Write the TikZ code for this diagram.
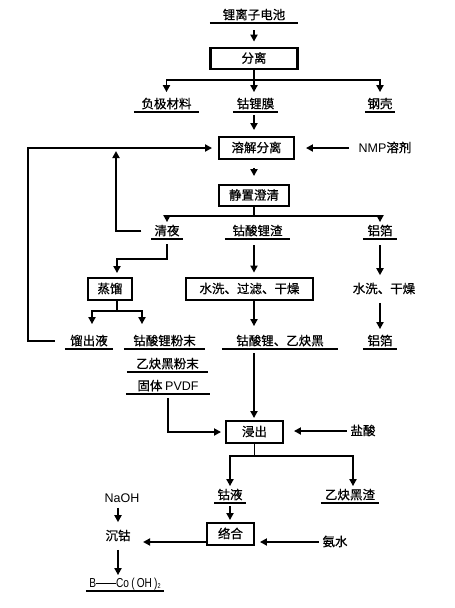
\documentclass[tikz,border=0pt]{standalone}
\usepackage{fontspec}
\setmainfont{Liberation Sans}
\newfontfamily\cjk[FakeBold=0.6]{Noto Sans CJK SC}
\newfontfamily\narrowfont[FakeStretch=0.78]{Liberation Sans}
\usetikzlibrary{arrows.meta,positioning,calc}
\newcommand{\latn}[1]{{\rmfamily #1}}

\begin{document}
\begin{tikzpicture}[
    x=1pt, y=-1pt,
    every node/.style={font=\cjk\fontsize{12.5}{14}\selectfont, text height=10.5pt, text depth=2pt},
    box/.style={draw, line width=1.9pt, inner sep=0pt},
    bigbox/.style={box, line width=2.8pt},
    prod/.style={anchor=south, inner xsep=0pt, inner ysep=1.5pt,
        append after command={(\tikzlastnode.south west) edge[line width=1.9pt] (\tikzlastnode.south east)}},
    arr/.style={-{Triangle[length=7pt,width=7pt]}, line width=1.9pt, shorten >=4pt},
    link/.style={line width=1.9pt}
]
\useasboundingbox (0,0) rectangle (455,608);

% 拆解
\node[prod, minimum width=88pt] (bat) at (254,23) {锂离子电池};
\node[bigbox, minimum width=87pt, minimum height=21pt] (sep) at (254,58.5) {分离};
\node[prod, minimum width=65pt] (neg) at (166.5,112) {负极材料};
\node[prod, minimum width=45pt] (film) at (255.5,112) {钴锂膜};
\node[prod, minimum width=30pt] (shell) at (380,112) {钢壳};

\draw[arr, shorten <=7pt, shorten >=5pt] (bat.south -| sep) -- (sep);
\coordinate (s1) at (254,80);
\draw[link] (sep) -- (s1);
\draw[arr] (s1) -| (neg);
\draw[arr] (s1) -| (shell);
\draw[arr] (s1) -- (s1 |- film.north);

% 溶解
\node[box, minimum width=75pt, minimum height=22pt] (diss) at (256.5,148) {溶解分离};
\node (nmp) at (385,148) {\latn{NMP}溶剂};
\node[box, minimum width=70pt, minimum height=21pt] (clar) at (254,195.5) {静置澄清};

\draw[arr, shorten <=3pt, shorten >=6pt] (film.south -| sep) -- (diss.north -| sep);
\draw[arr, shorten <=6pt, shorten >=11pt] (nmp) -- (nmp -| diss.east);
\draw[arr, shorten <=8pt, shorten >=8pt] (diss.south -| sep) -- (clar.north -| sep);

% 澄清后
\node[prod, minimum width=31pt] (liq) at (167,239) {清夜};
\node[prod, minimum width=65pt] (slag) at (257.5,239) {钴酸锂渣};
\node[prod, minimum width=34pt] (alf) at (380,239) {铝箔};

\coordinate (s2) at (254,216);
\draw[link] (clar) -- (s2);
\draw[arr, shorten >=1pt] (s2) -| (liq);
\draw[arr, shorten >=1pt] (s2) -| (alf);

% 回流
\coordinate (fb) at (116,148);
\draw[arr, shorten <=10pt, shorten >=3pt] (liq.west) -| (fb);

% 处理
\node[box, minimum width=44pt, minimum height=22pt] (dist) at (110,289) {蒸馏};
\node[bigbox, minimum width=127pt, minimum height=22pt] (wash) at (249.5,289) {水洗、过滤、干燥};
\node (wash2) at (384,289) {水洗、干燥};

\draw[arr, shorten <=5pt] (liq.south) -- ++(0,20) -| ([xshift=7pt]dist.north);
\draw[arr, shorten <=6pt] (slag.south -| sep) -- (wash.north -| sep);
\draw[arr, shorten <=6pt] (alf.south) -- (alf.south |- wash2.north);

% 产物
\node[prod, minimum width=48pt] (dout) at (89,349) {馏出液};
\node[prod, minimum width=81pt] (pow1) at (164.5,349) {钴酸锂粉末};
\node[prod, minimum width=81pt] (pow2) at (167.5,372) {乙炔黑粉末};
\node[prod, minimum width=84pt] (pvdf) at (168,394) {固体 \latn{PVDF}};
\node[prod, minimum width=116pt] (mix) at (280,349) {钴酸锂、乙炔黑};
\node[prod, minimum width=34pt] (alf2) at (380,349) {铝箔};

\draw[link] ([xshift=7pt]dist.south) -- ++(0,10) coordinate (s3);
\draw[arr, shorten >=9pt] (s3) -| ([xshift=3pt]dout.north);
\draw[arr, shorten >=9pt] (s3) -| ([xshift=-22.5pt]pow1.north);
\draw[arr, shorten >=7pt] (wash.south -| sep) -- (mix.north -| sep);
\draw[arr, shorten <=4pt] (wash2.south -| alf) -- (alf2);
\draw[arr, shorten <=10pt, shorten >=6pt] (dout.west) -- ++(-37,0) |- (diss.west);

% 浸出
\node[box, minimum width=57pt, minimum height=22pt] (leach) at (254.5,432) {浸出};
\node (hcl) at (363,431) {盐酸};

\draw[arr, shorten <=4pt, shorten >=2pt] (mix.south -| sep) -- (leach.north -| sep);
\draw[arr, shorten <=4pt] (pvdf.south) |- (leach.west);
\draw[arr, shorten >=10pt] (hcl) -- (hcl -| leach.east);

\node[prod, minimum width=31pt] (coliq) at (230,503) {钴液};
\node[prod, minimum width=58pt] (cbs) at (350,503) {乙炔黑渣};

\draw[link] (leach.south) -- ++(0,12) coordinate (s4);
\draw[arr, shorten >=1pt] (s4) -| (coliq);
\draw[arr, shorten >=1pt] (s4) -| ([xshift=3pt]cbs.north);

% 络合、沉钴
\node[box, minimum width=47pt, minimum height=22pt] (cplx) at (230.5,534) {络合};
\node (nh3) at (335,542) {氨水};
\node (prec) at (118,536) {沉钴};
\node (naoh) at (122,498) {\latn{NaOH}};
\node[prod, minimum width=78pt] (coh) at (125,591)
    {\narrowfont\fontsize{13}{14}\selectfont B\rule[3.8pt]{20pt}{0.8pt}Co\,(\,OH\,)\raisebox{-1pt}{\fontsize{7}{8}\selectfont 2}};

\draw[arr, shorten <=3pt, shorten >=2pt] (coliq) -- (coliq |- cplx.north);
\draw[arr, shorten >=5pt] (nh3.west) -- (nh3.west -| cplx.east);
\draw[arr, shorten >=9pt] (cplx.west |- nh3) -- (prec.east |- nh3);
\draw[arr] (naoh.south -| prec) -- (prec);
\draw[arr, shorten <=4pt, shorten >=0pt] (prec) -- (prec |- coh.north);

\end{tikzpicture}
\end{document}
